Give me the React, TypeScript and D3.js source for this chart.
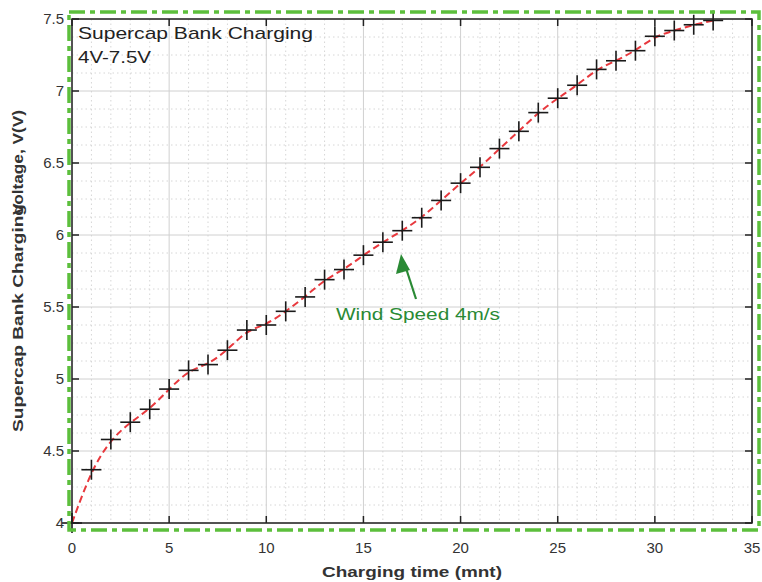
import React from "react";
import * as d3 from "d3";

const timeMin = [0,1,2,3,4,5,6,7,8,9,10,11,12,13,14,15,16,17,18,19,20,21,22,23,24,25,26,27,28,29,30,31,32,33];
const voltage = [4.0,4.37,4.58,4.70,4.79,4.93,5.06,5.10,5.20,5.34,5.375,5.47,5.57,5.69,5.76,5.86,5.95,6.03,6.12,6.24,6.36,6.47,6.60,6.72,6.85,6.95,7.04,7.15,7.21,7.28,7.38,7.42,7.46,7.49];
const xTicks = [0,5,10,15,20,25,30,35];
const yTicks = [4,4.5,5,5.5,6,6.5,7,7.5];
const yTickLabels = ["4","4.5","5","5.5","6","6.5","7","7.5"];

export default function App() {
  const W = 762, H = 582;
  const L = 72, R = 752, T = 19, B = 523;
  const x = d3.scaleLinear().domain([0, 35]).range([L, R]);
  const y = d3.scaleLinear().domain([4, 7.5]).range([B, T]);
  const xMinor = d3.range(0, 35.01, 1).filter(v => v % 5 !== 0);
  const yMinor = d3.range(4, 7.501, 0.125).filter(v => Math.abs((v * 2) - Math.round(v * 2)) > 1e-6);
  const pts = timeMin.map((t, i) => [t, voltage[i]] as [number, number]);
  const line = d3.line<[number, number]>().x(d => x(d[0])).y(d => y(d[1])).curve(d3.curveBasis);
  const font = "Arial, 'Liberation Sans', sans-serif";
  const green = "#5cbf3c";
  const tl = 7;
  return (
    <svg width={W} height={H} style={{ position: "absolute", left: 0, top: 0, background: "#fff" }} fontFamily={font}>
      <rect x={0} y={0} width={W} height={H} fill="#fff" />
      {/* minor grid */}
      {xMinor.map(v => (
        <line key={"xm" + v} x1={x(v)} x2={x(v)} y1={T} y2={B} stroke="#d6d6d6" strokeWidth={1} strokeDasharray="1.5,3" />
      ))}
      {yMinor.map(v => (
        <line key={"ym" + v} x1={L} x2={R} y1={y(v)} y2={y(v)} stroke="#d6d6d6" strokeWidth={1} strokeDasharray="1.5,3" />
      ))}
      {/* major grid */}
      {xTicks.map(v => (
        <line key={"xg" + v} x1={x(v)} x2={x(v)} y1={T} y2={B} stroke="#d0d0d0" strokeWidth={1} />
      ))}
      {yTicks.map(v => (
        <line key={"yg" + v} x1={L} x2={R} y1={y(v)} y2={y(v)} stroke="#d0d0d0" strokeWidth={1} />
      ))}
      {/* curve */}
      <path d={line(pts) || ""} fill="none" stroke="#e8383d" strokeWidth={2} strokeDasharray="7,4" />
      {/* markers */}
      {pts.map(([t, v], i) => (
        <g key={"m" + i} stroke="#1a1a1a" strokeWidth={1.6}>
          <line x1={x(t) - 10} x2={x(t) + 10} y1={y(v)} y2={y(v)} />
          <line x1={x(t)} x2={x(t)} y1={y(v) - 10} y2={y(v) + 10} />
        </g>
      ))}
      {/* axes box */}
      <rect x={L} y={T} width={R - L} height={B - T} fill="none" stroke="#222" strokeWidth={1.5} />
      {xTicks.map(v => (
        <g key={"xt" + v} stroke="#222" strokeWidth={1.5}>
          <line x1={x(v)} x2={x(v)} y1={B} y2={B - tl} />
          <line x1={x(v)} x2={x(v)} y1={T} y2={T + tl} />
        </g>
      ))}
      {yTicks.map(v => (
        <g key={"yt" + v} stroke="#222" strokeWidth={1.5}>
          <line x1={L} x2={L + tl} y1={y(v)} y2={y(v)} />
          <line x1={R} x2={R - tl} y1={y(v)} y2={y(v)} />
        </g>
      ))}
      {/* green dash-dot frame */}
      <rect x={69} y={12} width={690} height={518} fill="none" stroke={green} strokeWidth={3.5} strokeDasharray="16,5,5,5" />
      {/* tick labels */}
      {xTicks.map(v => (
        <text key={"xl" + v} x={x(v)} y={553} textAnchor="middle" fontSize={15} fill="#333">{v}</text>
      ))}
      {yTicks.map((v, i) => (
        <text key={"yl" + v} x={64} y={y(v) + 5} textAnchor="end" fontSize={15} fill="#333">{yTickLabels[i]}</text>
      ))}
      {/* titles */}
      <text x={322} y={577} fontSize={15} fontWeight="bold" fill="#333" textLength={180} lengthAdjust="spacingAndGlyphs">Charging time (mnt)</text>
      <text transform="translate(23,432) rotate(-90)" fontSize={15} fontWeight="bold" fill="#333" textLength={228} lengthAdjust="spacingAndGlyphs">Supercap Bank Charging</text>
      <text transform="translate(23,215) rotate(-90)" fontSize={15} fontWeight="bold" fill="#333" textLength={105} lengthAdjust="spacingAndGlyphs">Voltage, V(V)</text>
      {/* in-plot text */}
      <text x={78} y={39} fontSize={17} fill="#222" textLength={235} lengthAdjust="spacingAndGlyphs">Supercap Bank Charging</text>
      <text x={78} y={63} fontSize={17} fill="#222" textLength={73} lengthAdjust="spacingAndGlyphs">4V-7.5V</text>
      {/* annotation */}
      <line x1={416} y1={299} x2={404} y2={262} stroke="#2a8a35" strokeWidth={2.2} />
      <path d="M401,254 L396,274 L410,270 z" fill="#2a8a35" />
      <text x={336} y={320} fontSize={16} fill="#2a8a35" textLength={164} lengthAdjust="spacingAndGlyphs">Wind Speed 4m/s</text>
    </svg>
  );
}
